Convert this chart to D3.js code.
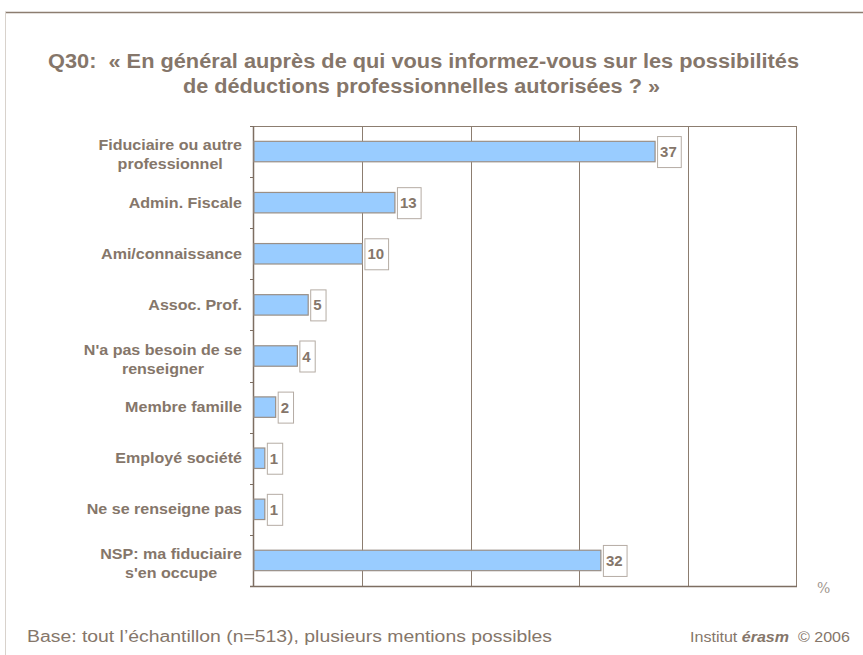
<html>
<head>
<meta charset="utf-8">
<script src="https://cdn.jsdelivr.net/npm/d3@7"></script>
<style>
  body { margin: 0; background: #fff; }
  text { font-family: Arial, "Liberation Sans", sans-serif; }
</style>
</head>
<body>
<svg id="vis"></svg>
<script>
  // data
  const categories = [
    ['Fiduciaire ou autre', 'professionnel'],
    ['Admin. Fiscale'],
    ['Ami/connaissance'],
    ['Assoc. Prof.'],
    ["N'a pas besoin de se", 'renseigner'],
    ['Membre famille'],
    ['Employé société'],
    ['Ne se renseigne pas'],
    ['NSP: ma fiduciaire', "s'en occupe"]
  ];
  const values = [37, 13, 10, 5, 4, 2, 1, 1, 32];
  const gridTicks = [10, 20, 30, 40, 50];
  const titleLines = [
    'Q30:  « En général auprès de qui vous informez-vous sur les possibilités',
    'de déductions professionnelles autorisées ? »'
  ];
  const baseNote = 'Base: tout l\u2019échantillon (n=513), plusieurs mentions possibles';
  const creditParts = [['Institut ', 'normal'], ['érasm', 'bold'], ['  © 2006', 'normal']];

  const width = 863, height = 655;
  const ink = '#85766a';
  const pLeft = 254, pRight = 796, pTop = 126, pBottom = 586;
  const wide = 1.07;   // the source font renders a bit wider than Liberation

  const svg = d3.select('#vis').attr('width', width).attr('height', height);

  function stretch(t, k) {
    const w = t.node().getComputedTextLength();
    t.attr('textLength', w * k).attr('lengthAdjust', 'spacingAndGlyphs');
    return t;
  }
  function fit(t, w) {
    t.attr('textLength', w).attr('lengthAdjust', 'spacingAndGlyphs');
    return t;
  }

  // frame lines
  svg.append('line').attr('x1', 5).attr('x2', width).attr('y1', 12.5).attr('y2', 12.5)
    .attr('stroke', '#8c7d70').attr('stroke-width', 1.5);
  svg.append('line').attr('x1', 5.5).attr('x2', 5.5).attr('y1', 12).attr('y2', height)
    .attr('stroke', '#d8d2cc').attr('stroke-width', 1);

  // title
  const titleSpans = [[423.5, 68, 751], [421.5, 93, 477]];
  titleLines.forEach((ln, i) => {
    const t = svg.append('text')
      .attr('x', titleSpans[i][0]).attr('y', titleSpans[i][1])
      .attr('text-anchor', 'middle')
      .style('font-size', '19.5px').style('font-weight', 'bold').attr('fill', ink)
      .style('white-space', 'pre')
      .text(ln);
    fit(t, titleSpans[i][2]);
  });

  const keys = categories.map((d, i) => i);
  const x = d3.scaleLinear().domain([0, 50]).range([pLeft, pRight]);
  const y = d3.scaleBand().domain(keys).range([pTop, pBottom]).paddingInner(0.6).paddingOuter(0.3);
  const yEdge = d3.scaleBand().domain(keys).range([pTop, pBottom]);

  // grid lines
  svg.selectAll('.grid').data(gridTicks).enter().append('line')
    .attr('x1', d => Math.round(x(d)) + 0.5).attr('x2', d => Math.round(x(d)) + 0.5)
    .attr('y1', pTop).attr('y2', pBottom)
    .attr('stroke', '#8c7d70').attr('stroke-width', 1);
  svg.append('line').attr('x1', pLeft).attr('x2', pRight + 1).attr('y1', pTop + 0.5).attr('y2', pTop + 0.5)
    .attr('stroke', '#8c7d70');

  // axes
  svg.append('line').attr('x1', pLeft - 0.5).attr('x2', pLeft - 0.5).attr('y1', pTop).attr('y2', pBottom + 1)
    .attr('stroke', '#7d6e62').attr('stroke-width', 1.5);
  svg.append('line').attr('x1', pLeft - 4).attr('x2', pRight + 1).attr('y1', pBottom + 0.5).attr('y2', pBottom + 0.5)
    .attr('stroke', '#7d6e62').attr('stroke-width', 1.5);
  svg.selectAll('.ytick').data(keys).enter().append('line')
    .attr('x1', pLeft - 4).attr('x2', pLeft)
    .attr('y1', d => Math.round(yEdge(d)) + 0.5).attr('y2', d => Math.round(yEdge(d)) + 0.5)
    .attr('stroke', '#7d6e62');

  // bars
  svg.selectAll('.bar').data(keys).enter().append('rect')
    .attr('x', pLeft)
    .attr('y', d => y(d))
    .attr('width', d => x(values[d]) - pLeft)
    .attr('height', y.bandwidth())
    .attr('fill', '#99ccff')
    .attr('stroke', '#9a8f86').attr('stroke-width', 1.2);

  // category labels: block right-aligned at 242, lines centered in the block
  keys.forEach(d => {
    const lines = categories[d];
    const cy = y(d) + y.bandwidth() / 2;
    const first = cy - (lines.length - 1) * 6.5 + 5;
    const ts = lines.map((ln, i) => {
      const t = svg.append('text')
        .attr('y', first + i * 19)
        .attr('text-anchor', 'middle')
        .style('font-size', '15px').style('font-weight', 'bold').attr('fill', ink)
        .text(ln);
      stretch(t, wide);
      return t;
    });
    const w = d3.max(ts, t => +t.attr('textLength'));
    ts.forEach(t => t.attr('x', 242 - w / 2));
  });

  // value labels in boxes
  keys.forEach(d => {
    const g = svg.append('g');
    const cy = y(d) + y.bandwidth() / 2;
    const x0 = x(values[d]) + 2;
    const t = g.append('text')
      .attr('x', x0 + 3).attr('y', cy + 5.5)
      .style('font-size', '15px').style('font-weight', 'bold').attr('fill', ink)
      .text(values[d]);
    const w = t.node().getComputedTextLength();
    g.insert('rect', 'text')
      .attr('x', x0 + 0.5).attr('y', cy - 15)
      .attr('width', w + 7).attr('height', 31)
      .attr('fill', '#fff').attr('stroke', '#b5aca4').attr('stroke-width', 1);
  });

  // unit
  svg.append('text').attr('x', 817).attr('y', 593)
    .style('font-family', '"DejaVu Serif", serif').style('font-size', '14px').attr('fill', '#a0968e')
    .text('%');

  // footer
  fit(svg.append('text').attr('x', 27).attr('y', 642)
    .style('font-size', '16px').attr('fill', ink).text(baseNote), 525);

  // credit, laid out right to left so it ends at x = 850
  let cx = 850;
  creditParts.slice().reverse().forEach(p => {
    const t = svg.append('text').attr('y', 642)
      .attr('text-anchor', 'end')
      .style('font-size', '15px').attr('fill', ink).style('white-space', 'pre')
      .style('font-weight', p[1]).style('font-style', p[1] === 'bold' ? 'italic' : 'normal')
      .text(p[0]);
    stretch(t, wide);
    t.attr('x', cx);
    cx -= +t.attr('textLength');
  });
</script>
</body>
</html>
